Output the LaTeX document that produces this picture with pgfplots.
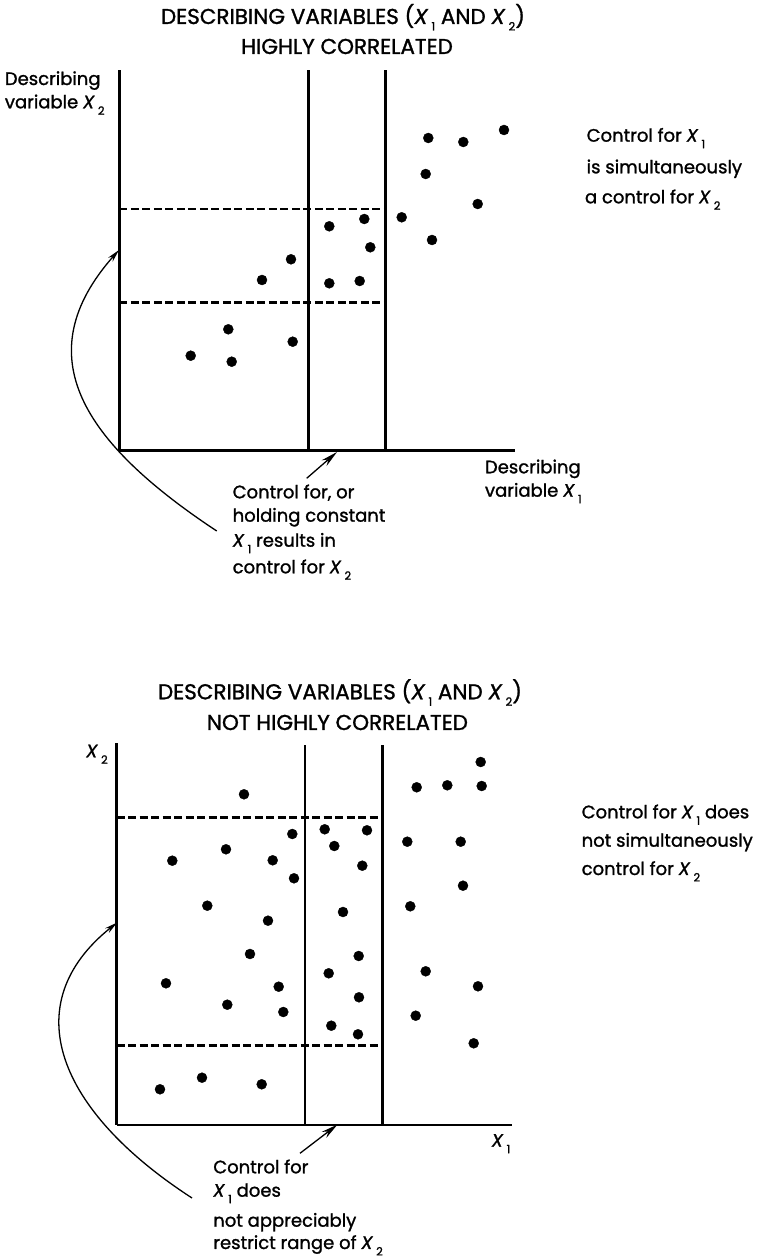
\documentclass[border=0pt]{standalone}
\usepackage{fontspec}
\setmainfont{Poppins}[FakeBold=1.3]
\usepackage{pgfplots}
\pgfplotsset{compat=1.18}
\usetikzlibrary{arrows.meta}
\newcommand{\X}[1]{\textit{X}\kern3.2bp\raisebox{-6.5bp}{\fontsize{11.5bp}{11.5bp}\selectfont #1}}
\newcommand{\titlefont}{\fontsize{21.5bp}{24bp}\selectfont}

\pgfplotstableread{
x y
384.7 320.7
309.0 312.7
344.0 308.7
306.4 276.7
358.4 246.7
282.4 233.4
312.7 210.7
245.0 231.7
210.0 224.4
251.0 203.4
210.0 167.4
240.4 169.7
171.7 191.4
142.7 170.7
109.0 121.4
173.4 109.0
71.4 95.0
112.4 89.0
}\toppoints

\pgfplotstableread{
x y
127.3 330.7
175.6 291.0
109.3 275.7
55.6 264.3
156.0 264.7
177.3 246.7
90.6 219.3
151.3 204.3
133.3 171.0
49.3 141.7
162.0 138.3
110.6 120.3
166.6 113.0
85.3 47.3
43.3 35.7
145.0 40.7
364.0 363.0
300.0 337.7
330.6 339.7
365.0 339.0
208.0 295.7
250.3 294.7
217.6 279.0
290.6 283.3
344.0 283.3
245.6 259.3
346.3 239.3
293.6 218.7
226.3 213.0
242.0 169.0
212.0 151.7
309.0 153.7
361.3 138.7
242.3 127.7
299.0 109.3
214.6 99.3
241.3 90.7
357.0 81.7
}\botpoints

\pgfplotsset{
  panel/.style={
    x=1bp, y=1bp, xmin=0, ymin=0,
    axis x line=bottom, axis y line=left,
    axis line style={-, line width=2.6bp},
    xtick=\empty, ytick=\empty,
    clip=false, anchor=south west,
  },
  dots/.style={only marks, mark=*, mark size=5bp, black},
  solidline/.style={black, line width=2.6bp, no marks},
  dashline/.style={black, line width=2.6bp, no marks, dash pattern=on 8bp off 3.5bp},
}

\begin{document}
\begin{tikzpicture}[x=1bp, y=1bp,
  every node/.style={font=\fontsize{18bp}{22bp}\selectfont, inner sep=0pt, outer sep=0pt},
  curvearrow/.style={line width=1.3bp, -{Stealth[length=13bp, width=6bp]}},
  strarrow/.style={line width=1.3bp, -{Stealth[length=17bp, width=7.5bp]}}]
\path[use as bounding box] (0,0) rectangle (764,1257);

% ---------------- top panel ----------------
\begin{axis}[panel, at={(119.3,806.3)}, xmax=395.7, ymax=380.7]
  \addplot[solidline] coordinates {(189,0) (189,380.7)};
  \addplot[solidline] coordinates {(266.4,0) (266.4,380.7)};
  \addplot[dashline] coordinates {(0,241.7) (266.4,241.7)};
  \addplot[dashline] coordinates {(0,148.4) (266.4,148.4)};
  \addplot[dots] table {\toppoints};
\end{axis}

\node[anchor=base, font=\titlefont] at (343,1233) {DESCRIBING VARIABLES (\X{1} AND \X{2})};
\node[anchor=base, font=\titlefont] at (347,1203) {HIGHLY CORRELATED};
\node[anchor=base west] at (4.9,1172) {Describing};
\node[anchor=base west] at (4.9,1148.7) {variable \X{2}};
\node[anchor=base west] at (586.7,1115.3) {Control for \X{1}};
\node[anchor=base west] at (586.7,1083.7) {is simultaneously};
\node[anchor=base west] at (585,1053.7) {a control for \X{2}};
\node[anchor=base west] at (485,783.7) {Describing};
\node[anchor=base west] at (485,760.3) {variable \X{1}};
\node[anchor=base west] at (232.7,758.7) {Control for, or};
\node[anchor=base west] at (232.7,735.3) {holding constant};
\node[anchor=base west] at (232.7,710.3) {\X{1} results in};
\node[anchor=base west] at (232.7,683.7) {control for \X{2}};
\draw[strarrow] (306.7,778.7) -- (337,805);
\draw[curvearrow] (216.7,726) .. controls (83.3,814.3) and (25.2,901.3) .. (119,1007);

% ---------------- bottom panel ----------------
\begin{axis}[panel, at={(116.7,132)}, xmax=395, ymax=381.7]
  \addplot[solidline] coordinates {(188.3,0) (188.3,380)};
  \addplot[solidline] coordinates {(266,0) (266,380)};
  \addplot[dashline] coordinates {(0,307.5) (266,307.5)};
  \addplot[dashline] coordinates {(0,79.5) (266,79.5)};
  \addplot[dots] table {\botpoints};
\end{axis}

\node[anchor=base, font=\titlefont] at (340,557.7) {DESCRIBING VARIABLES (\X{1} AND \X{2})};
\node[anchor=base, font=\titlefont] at (337.4,527) {NOT HIGHLY CORRELATED};
\node[anchor=base west] at (86.2,499.7) {\X{2}};
\node[anchor=base west] at (581.7,438.7) {Control for \X{1} does};
\node[anchor=base west] at (581.7,410.3) {not simultaneously};
\node[anchor=base west] at (581.7,382) {control for \X{2}};
\node[anchor=base west] at (491.7,110.3) {\X{1}};
\node[anchor=base west] at (213.3,83.7) {Control for};
\node[anchor=base west] at (213.3,60.3) {\X{1} does};
\node[anchor=base west] at (213.3,30.3) {not appreciably};
\node[anchor=base west] at (213.3,8) {restrict range of \X{2}};
\draw[strarrow] (300,103.7) -- (337.6,132.5);
\draw[curvearrow] (192,59) .. controls (57.8,146) and (14.5,252.5) .. (117.2,334.5);
\end{tikzpicture}
\end{document}
